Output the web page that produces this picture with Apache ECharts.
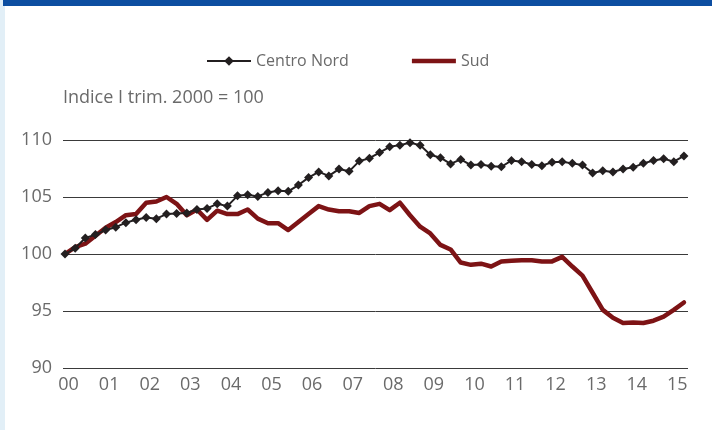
<!DOCTYPE html>
<html>
<head>
<meta charset="utf-8">
<script src="https://cdn.jsdelivr.net/npm/echarts@6/dist/echarts.min.js"></script>
<style>
  html, body { margin: 0; padding: 0; background: #fff; }
  #chart { width: 712px; height: 430px; }
</style>
</head>
<body>
<div id="chart"></div>
<script>
// anni (etichette asse x), dati trimestrali dal I trim. 2000 al II trim. 2015
const yearLabels = ["00", "01", "02", "03", "04", "05", "06", "07", "08", "09", "10", "11", "12", "13", "14", "15"];

const centroNord = [
  100.0, 100.5, 101.4, 101.7, 102.1, 102.35, 102.75, 103.0, 103.2, 103.1,
  103.5, 103.55, 103.6, 103.9, 104.0, 104.4, 104.2, 105.1, 105.2, 105.05,
  105.4, 105.55, 105.5, 106.05, 106.7, 107.2, 106.85, 107.45, 107.25, 108.15,
  108.4, 108.9, 109.4, 109.55, 109.75, 109.55, 108.7, 108.45, 107.9, 108.3,
  107.8, 107.85, 107.7, 107.65, 108.2, 108.1, 107.85, 107.75, 108.05, 108.1,
  107.95, 107.8, 107.1, 107.3, 107.2, 107.45, 107.6, 107.95, 108.2, 108.35,
  108.1, 108.6
];

const sud = [
  100.0, 100.6, 100.9, 101.6, 102.3, 102.8, 103.4, 103.5, 104.5, 104.6,
  105.0, 104.4, 103.4, 103.9, 103.0, 103.8, 103.5, 103.5, 103.9, 103.1,
  102.7, 102.7, 102.1, 102.8, 103.5, 104.2, 103.9, 103.75, 103.75, 103.6,
  104.2, 104.4, 103.85, 104.5, 103.4, 102.4, 101.8, 100.8, 100.4, 99.25,
  99.05, 99.15, 98.9, 99.35, 99.4, 99.45, 99.45, 99.35, 99.35, 99.75,
  98.9, 98.1, 96.6, 95.1, 94.4, 93.95, 94.0, 93.95, 94.15, 94.5,
  95.1, 95.75
];

const yTicks = { min: 90, max: 110, step: 5 };

(() => {
  let myChart = echarts.init(document.querySelector("#chart"));
  const font = "'Open Sans', 'DejaVu Sans', sans-serif";
  const labelShift = 0.35;
  const toPoints = (arr) => arr.map((v, i) => [i, v]);

  let option = {
    animation: false,
    backgroundColor: "#fff",
    textStyle: { fontFamily: font },
    graphic: [
      {
        type: "rect",
        shape: { x: 0, y: 0, width: 5, height: 430 },
        style: { fill: "#e2eff7" },
      },
      {
        type: "rect",
        shape: { x: 3, y: 0, width: 709, height: 6 },
        style: { fill: "#0d4ea1" },
      },
      {
        type: "text",
        left: 63,
        top: 89,
        style: {
          text: "Indice I trim. 2000 = 100",
          fill: "#6a6a6a",
          font: "18px " + font,
        },
      },
    ],
    legend: {
      left: 201,
      top: 48,
      itemWidth: 44,
      itemHeight: 12,
      itemGap: 63,
      textStyle: {
        color: "#6a6a6a",
        fontSize: 16,
        fontFamily: font,
      },
      data: [
        { name: "Centro Nord" },
        { name: "Sud", icon: "path://M0,0L44,0L44,4.5L0,4.5Z" },
      ],
    },
    grid: {
      left: 63,
      right: 24,
      top: 140,
      bottom: 62,
      containLabel: false,
    },
    xAxis: {
      type: "value",
      min: -0.2,
      max: 61.4,
      axisLine: { show: false },
      axisTick: { show: false },
      splitLine: { show: false },
      axisLabel: {
        customValues: yearLabels.map((_, k) => 4 * k + labelShift),
        formatter: (v) => yearLabels[Math.round((v - labelShift) / 4)],
        color: "#6a6a6a",
        fontSize: 18,
        fontFamily: font,
        margin: 8,
      },
    },
    yAxis: {
      type: "value",
      min: yTicks.min,
      max: yTicks.max,
      interval: yTicks.step,
      axisLine: { show: false },
      axisTick: { show: false },
      splitLine: {
        lineStyle: { color: "#3a3a3a", width: 1 },
      },
      axisLabel: {
        color: "#6a6a6a",
        fontSize: 18,
        fontFamily: font,
        margin: 11,
      },
    },
    series: [
      {
        name: "Sud",
        type: "line",
        data: toPoints(sud),
        symbol: "none",
        lineStyle: { color: "#7d1315", width: 4.5, join: "round", cap: "round" },
        itemStyle: { color: "#7d1315" },
        z: 2,
      },
      {
        name: "Centro Nord",
        type: "line",
        data: toPoints(centroNord),
        symbol: "diamond",
        symbolSize: 9,
        showAllSymbol: true,
        lineStyle: { color: "#231f20", width: 2 },
        itemStyle: { color: "#231f20" },
        z: 3,
      },
    ],
  };
  myChart.setOption(option);
  window.addEventListener("resize", () => {
    myChart.resize();
  });
})();
</script>
</body>
</html>
